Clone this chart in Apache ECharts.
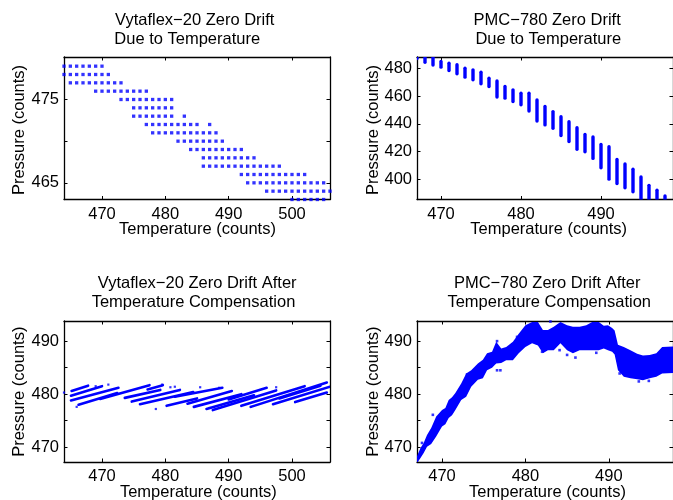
<!DOCTYPE html>
<html><head><meta charset="utf-8">
<script src="https://cdn.jsdelivr.net/npm/echarts@6/dist/echarts.min.js"></script>
<style>html,body{margin:0;padding:0;background:#fff}#c{width:673px;height:500px}</style>
</head><body><div id="c"></div>
<script>
const FONT = '"Liberation Sans", Arial, Helvetica, sans-serif';
const BLUE = '#0000ff';

// ---- Plot 1: Vytaflex-20 raw (pressure rows, temperature values) ----
const vytaRawP = [479, 478, 477, 476, 475, 474, 473, 472, 471, 470, 469, 468, 467, 466, 465, 464, 463];
const vytaRawT = [
  [464,465,466,467,468,469,470],
  [464,465,466,467,468,469,470,471],
  [465,466,467,468,469,470,471,472,473],
  [469,470,471,472,473,474,475,476,477],
  [473,474,475,476,477,478,479,480,481],
  [475,476,477,478,479,480,481],
  [475,476,477,478,479,480,481,483],
  [477,478,479,480,481,482,483,484,485,487],
  [478,479,480,481,482,483,484,485,486,487,488],
  [482,483,484,485,486,487,488,489],
  [484,485,486,487,488,489,490,491,492],
  [486,487,488,489,490,491,492,493,494],
  [486,487,488,489,490,491,492,493,494,495,496,497,498],
  [492,493,494,495,496,497,498,499,500,501,502],
  [493,494,495,496,497,498,499,500,501,502,503,504,505],
  [496,497,498,499,500,501,502,503,504,505,506],
  [500,501,502,503,504,505]
];

// ---- Plot 2: PMC-780 raw (vertical streak per temperature count) ----
const pmcRawT    = [467,468,469,470,471,472,473,474,475,476,477,478,479,480,481,482,483,484,485,486,487,488,489,490,491,492,493,494,495,496,497,498];
const pmcRawLow  = [485.7,483,481,479.5,477,474.7,472.3,470.4,467.5,465.6,458,457.2,454.8,452.4,448,440.7,438,435.6,430.3,426,420.4,418.7,413.9,407.2,399,395.9,392.8,389.9,384,384,384,384];
const pmcRawHigh = [489,489,489,486,484.8,483.6,481.2,480,478.3,474,472,468,465.6,463.2,463.2,458.4,453.6,450,446.3,442.7,438.4,433.6,431.7,426.4,424.7,415.6,412.3,408.6,403,397,393.5,389.4];

// ---- Plot 3: Vytaflex-20 compensated (stripes: T1, P1, T2, P2) ----
const vytaCompStripes = [
  [465.2,480.6,467.8,481.6],
  [465.1,479.7,470.0,481.5],
  [465.1,478.8,472.6,481.2],
  [466.3,478.0,472.4,480.2],
  [469.7,479.1,477.5,481.7],
  [473.6,479.3,479.2,480.8],
  [474.7,478.6,482.3,480.8],
  [476.0,478.1,484.4,480.4],
  [477.2,480.9,479.6,481.7],
  [480.2,477.8,485.0,479.2],
  [481.5,479.5,489.0,481.2],
  [483.5,478.2,490.5,480.6],
  [484.5,477.6,492.0,480.0],
  [486.5,477.2,494.0,479.8],
  [487.5,477.0,497.5,480.7],
  [490.0,479.0,496.0,481.2],
  [492.0,477.8,502.0,481.5],
  [493.5,477.6,505.5,482.2],
  [497.0,478.1,506.0,481.4],
  [498.0,479.2,504.5,481.6],
  [500.5,478.5,505.5,480.3]
];
const vytaCompDotsT = [464.0, 466.0, 469.0, 471.0, 478.5, 479.5, 480.8, 481.5, 485.5, 487.0, 488.5, 493.5, 497.5];
const vytaCompDotsP = [480.3, 477.6, 481.5, 481.8, 477.2, 481.8, 481.3, 481.4, 481.3, 477.4, 481.2, 477.6, 481.3];

// ---- Plot 4: PMC-780 compensated (noise band envelope + stray points) ----
const pmcCompT     = [467.0,467.4,467.8,468.2,468.7,469.3,470.0,470.4,470.8,471.2,471.6,472.3,472.9,473.5,474.3,474.9,475.4,476.0,476.5,477.1,477.7,478.5,479.2,480.0,480.8,481.5,482.1,482.7,483.4,484.2,485.0,485.7,486.5,487.3,488.0,488.8,489.4,489.9,490.4,490.7,491.1,491.8,492.6,493.4,494.1,494.9,495.7,496.4,497.7];
const pmcCompUpper = [468.3,469.8,470.8,472.3,473.6,475.8,477.0,477.4,478.9,479.4,480.2,482.0,483.9,484.5,485.8,486.5,487.7,488.0,489.9,488.6,488.9,489.9,491.4,493.0,493.6,493.6,492.1,492.1,492.7,493.6,493.0,492.7,492.7,493.0,493.6,493.6,492.9,493.0,492.5,492.0,489.3,488.9,488.3,487.6,487.3,487.4,487.7,488.9,489.0];
const pmcCompLower = [467.0,467.9,468.9,470.1,470.6,472.0,473.9,474.3,475.5,476.0,477.0,478.9,479.5,481.4,482.7,483.0,484.5,485.0,485.8,485.9,486.4,486.4,487.7,488.9,489.6,489.2,487.7,488.3,488.3,489.6,488.3,487.7,488.3,488.3,488.3,488.3,488.6,488.3,488.0,487.5,484.5,483.3,483.0,482.8,482.6,483.0,483.3,483.9,484.0];
const pmcStrayT = [467.6, 468.9, 473.0, 476.6, 477.0, 476.6, 482.0, 484.1, 485.0, 486.0, 491.3, 493.6, 494.8, 479.0, 483.0, 488.5];
const pmcStrayP = [470.8, 476.1, 483.7, 490.0, 484.5, 484.5, 488.0, 488.3, 487.4, 486.9, 483.9, 482.4, 482.5, 490.8, 493.7, 487.8];

// ---------------- layout / axes ----------------
const grids = [
  {left: 64,  top: 57,  width: 266, height: 142.5},
  {left: 417, top: 57,  width: 266, height: 142.5},
  {left: 64,  top: 321, width: 266, height: 141},
  {left: 417, top: 321, width: 266, height: 141}
];
const axisSpec = [
  {xmin: 464, xmax: 506,  xt: [470,480,490,500], xl: [470,480,490,500], ymin: 463,   ymax: 480.1, yt: [465,470,475], yl: [465,475]},
  {xmin: 467, xmax: 499,  xt: [470,480,490],     xl: [470,480,490],     ymin: 385.6, ymax: 488,   yt: [400,420,440,460,480], yl: [400,420,440,460,480]},
  {xmin: 464, xmax: 506,  xt: [470,480,490,500], xl: [470,480,490,500], ymin: 467.2, ymax: 493.8, yt: [470,475,480,485,490], yl: [470,480,490]},
  {xmin: 467, xmax: 497.7,xt: [470,480,490],     xl: [470,480,490],     ymin: 467.2, ymax: 493.8, yt: [470,475,480,485,490], yl: [470,480,490]}
];
const lbl = {color: '#000', fontSize: 16.5, fontFamily: FONT};
const xAxes = [], yAxes = [];
axisSpec.forEach((s, i) => {
  [['bottom', true], ['top', false]].forEach(([pos, showL]) => {
    xAxes.push({
      type: 'value', gridIndex: i, position: pos, min: s.xmin, max: s.xmax,
      axisLine: {show: true, onZero: false, lineStyle: {color: '#000', width: 1.3}},
      axisTick: {show: true, inside: true, length: 3.5, customValues: s.xt, lineStyle: {color: '#000', width: 1}},
      axisLabel: Object.assign({show: showL, customValues: s.xl, margin: 6}, lbl),
      splitLine: {show: false}
    });
  });
  [['left', true], ['right', false]].forEach(([pos, showL]) => {
    yAxes.push({
      type: 'value', gridIndex: i, position: pos, min: s.ymin, max: s.ymax,
      axisLine: {show: true, onZero: false, lineStyle: {color: '#000', width: 1.3}},
      axisTick: {show: true, inside: true, length: 3.5, customValues: s.yt, lineStyle: {color: '#000', width: 1}},
      axisLabel: Object.assign({show: showL, customValues: s.yl, margin: 5}, lbl),
      splitLine: {show: false}
    });
  });
});

// ---------------- series data ----------------
const rawPts = [];
vytaRawP.forEach((p, r) => vytaRawT[r].forEach(t => rawPts.push([t, p])));
const streakData = pmcRawT.map((t, i) => [t, pmcRawLow[i], pmcRawHigh[i]]);
const dotData = vytaCompDotsT.map((t, i) => [t, vytaCompDotsP[i]]);
const strayData = pmcStrayT.map((t, i) => [t, pmcStrayP[i]]);

const series = [
  {type: 'scatter', xAxisIndex: 0, yAxisIndex: 0, data: rawPts, symbol: 'rect', symbolSize: 3.3,
   itemStyle: {color: BLUE}, silent: true, animation: false},
  {type: 'custom', xAxisIndex: 2, yAxisIndex: 2, data: streakData, clip: true, animation: false,
   encode: {x: 0, y: [1, 2]},
   renderItem: (params, api) => {
     const t = api.value(0);
     const a = api.coord([t, api.value(2)]);
     const b = api.coord([t, api.value(1)]);
     return {type: 'rect', shape: {x: a[0] - 1.7, y: a[1], width: 3.4, height: b[1] - a[1], r: 1.7},
             style: {fill: BLUE}};
   }},
  {type: 'custom', xAxisIndex: 4, yAxisIndex: 4, data: vytaCompStripes, clip: true, animation: false,
   encode: {x: [0, 2], y: [1, 3]},
   renderItem: (params, api) => {
     const a = api.coord([api.value(0), api.value(1)]);
     const b = api.coord([api.value(2), api.value(3)]);
     return {type: 'line', shape: {x1: a[0], y1: a[1], x2: b[0], y2: b[1]},
             style: {stroke: BLUE, lineWidth: 2.6, lineCap: 'round'}};
   }},
  {type: 'scatter', xAxisIndex: 4, yAxisIndex: 4, data: dotData, symbol: 'rect', symbolSize: 2.2,
   itemStyle: {color: BLUE}, silent: true, animation: false},
  {type: 'custom', xAxisIndex: 6, yAxisIndex: 6, data: [[pmcCompT[0], pmcCompLower[0]]], clip: true, animation: false,
   renderItem: (params, api) => {
     const pts = [];
     pmcCompT.forEach((t, i) => pts.push(api.coord([t, pmcCompUpper[i]])));
     for (let i = pmcCompT.length - 1; i >= 0; i--) pts.push(api.coord([pmcCompT[i], pmcCompLower[i]]));
     return {type: 'polygon', shape: {points: pts}, style: {fill: BLUE}};
   }},
  {type: 'scatter', xAxisIndex: 6, yAxisIndex: 6, data: strayData, symbol: 'rect', symbolSize: 2.6,
   itemStyle: {color: BLUE}, silent: true, animation: false}
];

// ---------------- texts ----------------
function txt(x, y, s, rot) {
  return {type: 'text', x: x, y: y, rotation: rot || 0,
          style: {text: s, fill: '#000', font: '16.5px ' + FONT, textAlign: 'center', textVerticalAlign: 'middle'}};
}
const graphics = [
  txt(194.7, 20.7, 'Vytaflex\u221220 Zero Drift'),
  txt(187.2, 39.3, 'Due to Temperature'),
  txt(547.2, 20.7, 'PMC\u2212780 Zero Drift'),
  txt(548.3, 39.3, 'Due to Temperature'),
  txt(197.2, 283.3, 'Vytaflex\u221220 Zero Drift After'),
  txt(193.5, 302.7, 'Temperature Compensation'),
  txt(547.2, 283.3, 'PMC\u2212780 Zero Drift After'),
  txt(549.2, 302.7, 'Temperature Compensation'),
  txt(197.5, 229.3, 'Temperature (counts)'),
  txt(548.7, 229.3, 'Temperature (counts)'),
  txt(198.3, 492.5, 'Temperature (counts)'),
  txt(547.5, 492.5, 'Temperature (counts)'),
  txt(19, 130, 'Pressure (counts)', Math.PI / 2),
  txt(373.3, 130, 'Pressure (counts)', Math.PI / 2),
  txt(19, 391.7, 'Pressure (counts)', Math.PI / 2),
  txt(373.3, 391.7, 'Pressure (counts)', Math.PI / 2)
];

const chart = echarts.init(document.getElementById('c'), null, {renderer: 'canvas'});
chart.setOption({
  animation: false,
  backgroundColor: '#fff',
  grid: grids,
  xAxis: xAxes,
  yAxis: yAxes,
  series: series,
  graphic: graphics
});
</script></body></html>
